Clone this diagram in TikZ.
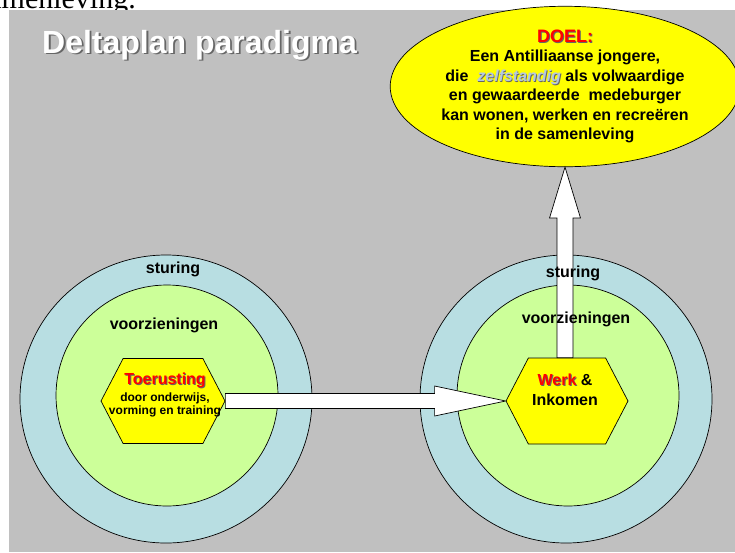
\documentclass[tikz,border=0pt]{standalone}
\usepackage{fontspec}
\setmainfont{Liberation Sans}
\newfontfamily\serifpart{Liberation Serif}
\usetikzlibrary{calc, positioning, shapes.geometric, shapes.symbols}

\definecolor{slidegray}{HTML}{C0C0C0}
\definecolor{sturingblue}{HTML}{B8DEE2}
\definecolor{voorzgreen}{HTML}{CCFF99}
\definecolor{hexyellow}{HTML}{FFFF00}
\definecolor{zelfblue}{HTML}{B4C8E0}

% text with a grey drop shadow
\newcommand{\shadowed}[3][1pt]{\makebox[0pt][l]{\hspace{#1}\raisebox{-#1}{\textcolor{black!60}{#3}}}\textcolor{#2}{#3}}

\tikzset{
  ring/.style={ellipse, draw=black, line width=0.7pt, inner sep=0pt},
  hexa/.style={signal, signal to=east and west, signal pointer angle=125, draw=black, line width=0.7pt, fill=hexyellow, inner sep=0pt},
  blockarrow/.style={draw=black, line width=0.7pt, fill=white, line join=miter},
  lbl/.style={font=\bfseries\fontsize{16}{19}\selectfont, inner sep=0pt},
}

\begin{document}
\begin{tikzpicture}[x=1pt, y=-1pt]
    \useasboundingbox (0,0) rectangle (735,552);

    % Page text above the slide
    \node[anchor=base east, inner sep=0pt, font=\serifpart\fontsize{30}{36}\selectfont] (pagetext) at (136,8) {samenleving.};

    % Slide
    \fill[slidegray] (9,10) rectangle (735,552);
    \node[anchor=base west, inner sep=0pt, font=\bfseries\fontsize{32}{38}\selectfont] (title) at (42,53) {\shadowed[1.8pt]{white}{Deltaplan paradigma}};

    % Rings
    \node[ring, fill=sturingblue, minimum width=292pt, minimum height=288pt] (sturL) at (166,399) {};
    \node[ring, fill=voorzgreen, minimum width=222pt, minimum height=221pt] (voorzL) at (167,395.5) {};
    \node[ring, fill=sturingblue, minimum width=292pt, minimum height=288pt] (sturR) at (566,399) {};
    \node[ring, fill=voorzgreen, minimum width=222pt, minimum height=221pt] (voorzR) at (568,395.5) {};

    % Goal
    \node[ring, fill=hexyellow, minimum width=314pt, minimum height=128pt, align=center, font=\bfseries\fontsize{16}{19.5}\selectfont] (goal) at (565,86.5)
        {{\fontsize{18}{19.5}\selectfont\shadowed{red}{DOEL:}}\\
         Een Antilliaanse jongere,\\
         die\ \ \shadowed[0.8pt]{zelfblue}{\itshape zelfstandig} als volwaardige\\
         en gewaardeerde\ \ medeburger\\
         kan wonen, werken en recreëren\\
         in de samenleving};

    % Hexagons
    \node[hexa, minimum width=124pt, minimum height=85pt] (tool) at (163,401) {};
    \node[hexa, minimum width=122pt, minimum height=86pt] (work) at (567,401) {};

    % Arrows
    \draw[blockarrow] ($(tool.east)+(0,-7.5)$) -- ($(work.west)+(-71,-7.5)$) -- ($(work.west)+(-71,-15)$) -- (work.west)
        -- ($(work.west)+(-71,15)$) -- ($(work.west)+(-71,7.5)$) -- ($(tool.east)+(0,7.5)$) -- cycle;
    \coordinate (vbase) at (goal.south |- work.north);
    \draw[blockarrow] ($(vbase)+(-8,0)$) -- ($(goal.south)+(-8,51)$) -- ($(goal.south)+(-15.5,51)$) -- (goal.south)
        -- ($(goal.south)+(15.5,51)$) -- ($(goal.south)+(8,51)$) -- ($(vbase)+(8,0)$) -- cycle;

    % Labels
    \node[lbl] (sturLlbl) at (173,269) {sturing};
    \node[lbl] (voorzLlbl) at (164,325) {voorzieningen};
    \node[lbl] (sturRlbl) at (573,273) {sturing};
    \node[lbl] (voorzRlbl) at (576,319) {voorzieningen};

    \node[align=center, inner sep=0pt, font=\bfseries\fontsize{12}{13}\selectfont] (tooltext) at (165,395)
        {{\fontsize{16}{17}\selectfont\shadowed{red}{Toerusting}}\\[2pt] door onderwijs,\\ vorming en training};
    \node[align=center, inner sep=0pt, font=\bfseries\fontsize{16}{20}\selectfont] (worktext) at (565,390)
        {\shadowed{red}{Werk} \&\\ Inkomen};

\end{tikzpicture}
\end{document}
